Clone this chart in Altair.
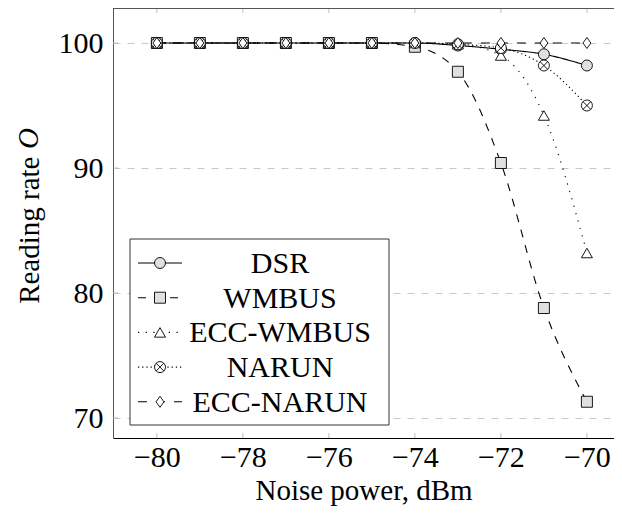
import altair as alt
import pandas as pd

# ---- data ----
noise = [-80, -79, -78, -77, -76, -75, -74, -73, -72, -71, -70]
dsr = [100, 100, 100, 100, 100, 100, 100, 99.8, 99.5, 99.1, 98.2]
wmbus = [100, 100, 100, 100, 100, 100, 99.7, 97.7, 90.4, 78.8, 71.3]
ecc_wmbus = [100, 100, 100, 100, 100, 100, 100, 99.9, 99.0, 94.2, 83.2]
narun = [100, 100, 100, 100, 100, 100, 100, 99.9, 99.6, 98.2, 95.0]
ecc_narun = [100, 100, 100, 100, 100, 100, 100, 100, 100, 100, 100]

series_names = ["DSR", "WMBUS", "ECC-WMBUS", "NARUN", "ECC-NARUN"]
series_values = [dsr, wmbus, ecc_wmbus, narun, ecc_narun]
x_ticks = [-80, -78, -76, -74, -72, -70]
y_ticks = [70, 80, 90, 100]

FONT = "Liberation Serif"
DIAMOND = "M0,-1L0.72,0L0,1L-0.72,0Z"
XPATH = "M-0.707,-0.707L0.707,0.707M-0.707,0.707L0.707,-0.707"

styles = {
    "DSR": dict(dash=[1, 0], shape="circle", fill="#e0e0e0", cross=False),
    "WMBUS": dict(dash=[8, 8], shape="square", fill="#e0e0e0", cross=False),
    "ECC-WMBUS": dict(dash=[1.2, 6.5], shape="triangle-up", fill="white", cross=False),
    "NARUN": dict(dash=[1.2, 3], shape="circle", fill="white", cross=True),
    "ECC-NARUN": dict(dash=[9, 9], shape=DIAMOND, fill="white", cross=False),
}

W, H = 501, 430
xscale = alt.Scale(domain=[-81.02, -69.37], nice=False, zero=False)
yscale = alt.Scale(domain=[68.4, 102.8], nice=False, zero=False)
X = alt.X("noise:Q", scale=xscale,
          axis=alt.Axis(values=x_ticks, title="Noise power, dBm", grid=False,
                        ticks=False, domain=True, domainColor="black",
                        labelPadding=4, titleY=61, titleBaseline="alphabetic"))
Y = alt.Y("rate:Q", scale=yscale,
          axis=alt.Axis(values=y_ticks, title="Reading rate", grid=True,
                        gridDash=[7, 7], gridColor="#c8c8c8", ticks=False,
                        domain=True, domainColor="#555", labelPadding=10,
                        titleAngle=270, titleAlign="right", titleX=-75,
                        titleY=148, titleBaseline="alphabetic"))

layers = []

# inside tick marks (light gray), from the tick arrays
xt = pd.DataFrame({"noise": x_ticks})
yt = pd.DataFrame({"rate": y_ticks})
tick_style = dict(color="#bdbdbd", strokeWidth=1)
layers.append(alt.Chart(xt).mark_rule(**tick_style).encode(x=X, y=alt.value(0), y2=alt.value(5)))
layers.append(alt.Chart(xt).mark_rule(**tick_style).encode(x=X, y=alt.value(H - 5), y2=alt.value(H)))
layers.append(alt.Chart(yt).mark_rule(**tick_style).encode(y=Y, x=alt.value(0), x2=alt.value(5)))

# top frame line (the right side runs off the page in the reference)
one = pd.DataFrame({"k": [0]})
layers.append(alt.Chart(one).mark_rule(color="#555", strokeWidth=1).encode(
    x=alt.value(0), x2=alt.value(W), y=alt.value(0.5)))


def marker_marks(base, st):
    out = [base.mark_point(shape=st["shape"], filled=True, fill=st["fill"],
                           stroke="black", strokeWidth=0.9, size=121, opacity=1)]
    if st["cross"]:
        out.append(base.mark_point(shape=XPATH, filled=False, stroke="black",
                                   strokeWidth=0.9, size=121, opacity=1))
    return out


for name, vals in zip(series_names, series_values):
    st = styles[name]
    df = pd.DataFrame({"noise": noise, "rate": vals})
    base = alt.Chart(df).encode(x=X, y=Y)
    layers.append(base.mark_line(color="black", strokeWidth=1.1,
                                 strokeDash=st["dash"], interpolate="monotone"))
    layers.extend(marker_marks(base, st))

# ---- legend box ----
layers.append(alt.Chart(one).mark_rect(fill="white", stroke="#333", strokeWidth=1).encode(
    x=alt.value(17), x2=alt.value(276), y=alt.value(231), y2=alt.value(417)))
for i, name in enumerate(series_names):
    st = styles[name]
    yy = 255 + 34.7 * i
    d = pd.DataFrame({"name": [name]})
    b = alt.Chart(d)
    layers.append(b.mark_rule(color="black", strokeWidth=1.1, strokeDash=st["dash"]).encode(
        x=alt.value(25), x2=alt.value(69), y=alt.value(yy)))
    layers.extend(marker_marks(b.encode(x=alt.value(47), y=alt.value(yy)), st))
    layers.append(b.mark_text(font=FONT, fontSize=30, color="black", align="center",
                              baseline="middle").encode(
        x=alt.value(167), y=alt.value(yy + 1), text="name:N"))

# italic O of the y title
layers.append(alt.Chart(pd.DataFrame({"t": ["O"]})).mark_text(
    font=FONT, fontSize=29, fontStyle="italic", angle=270, align="left",
    baseline="alphabetic", color="black").encode(
    x=alt.value(-75), y=alt.value(141), text="t:N"))

chart = alt.layer(*layers).properties(
    width=W, height=H,
    autosize=alt.AutoSizeParams(type="none"),
    padding={"left": 105, "top": 0, "right": 0, "bottom": 72},
).configure_view(stroke=None).configure_axis(
    labelFont=FONT, labelFontSize=30, labelColor="black",
    titleFont=FONT, titleFontSize=29, titleColor="black", titleFontWeight="normal",
)

chart.save("out.html", embed_options={"renderer": "svg", "actions": False})
